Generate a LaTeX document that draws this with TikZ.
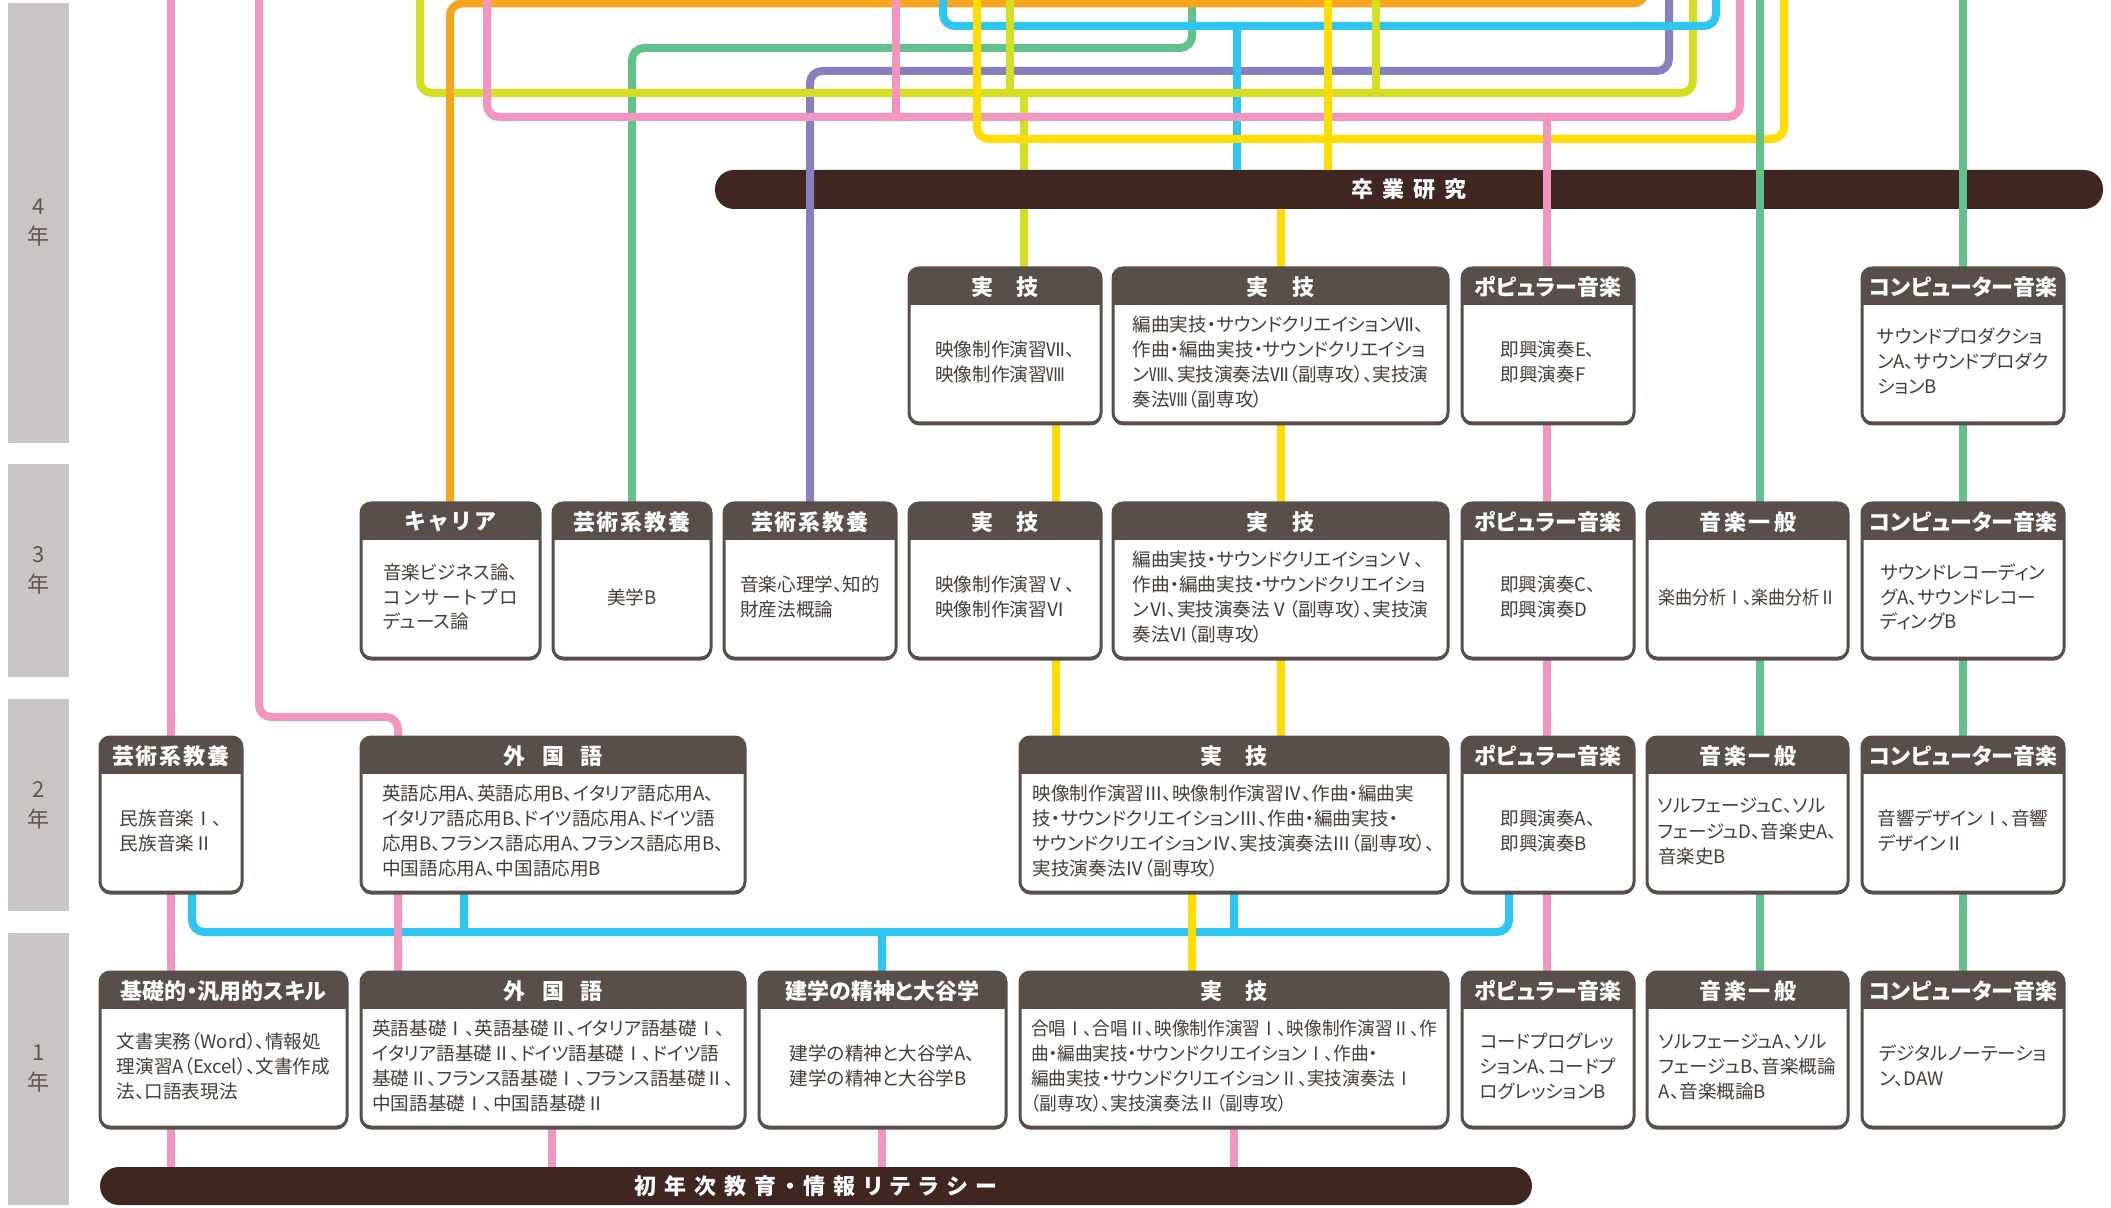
\documentclass[tikz,border=0pt]{standalone}
\usepackage{fontspec}
\usepackage{graphicx}
\setmainfont{Noto Sans CJK JP}[RawFeature={+palt}]
\newfontfamily\hfont{Noto Sans CJK JP}[RawFeature={+palt}]
\usetikzlibrary{calc}
\definecolor{cOrg}{HTML}{F7A51F}
\definecolor{cPink}{HTML}{F296BF}
\definecolor{cLime}{HTML}{D5DF21}
\definecolor{cGreen}{HTML}{63C18B}
\definecolor{cPurple}{HTML}{8780BE}
\definecolor{cCyan}{HTML}{2DC6F1}
\definecolor{cYel}{HTML}{FFDD00}
\definecolor{cHdr}{HTML}{584E4A}
\definecolor{cBar}{HTML}{3F2720}
\definecolor{cYear}{HTML}{C9C5C4}
\definecolor{cTxt}{HTML}{463D39}
\definecolor{cYearTxt}{HTML}{5E5551}
\newsavebox\fitsave
\newsavebox\tmpbox
\newcommand\fitto[2]{\sbox\fitsave{#2}\ifdim\wd\fitsave>#1\relax\resizebox{#1}{\height}{\usebox\fitsave}\else\usebox\fitsave\fi}
\def\lspk{0pt}
\newcommand\lsp[2]{\def\lspk{#1}\lspA#2\relax}
\def\lspA#1{#1\lspB}
\def\lspB#1{\ifx\relax#1\else\kern\lspk\relax#1\expandafter\lspB\fi}
\pgfdeclarelayer{l0}
\pgfdeclarelayer{l1}
\pgfdeclarelayer{l2}
\pgfsetlayers{l0,l1,l2,main}
\tikzset{
  ln/.style={line width=4pt, rounded corners=6pt},
  lo/.style={ln, draw=cOrg}, lp/.style={ln, draw=cPink}, ll/.style={ln, draw=cLime},
  lg/.style={ln, draw=cGreen}, lu/.style={ln, draw=cPurple}, lc/.style={ln, draw=cCyan},
  ly/.style={ln, draw=cYel},
  boxframe/.style={draw=cHdr, line width=1.5pt, rounded corners=5pt, inner sep=0pt, outer sep=0pt},
  hdrtext/.style={text=white, inner sep=0pt, font=\hfont\bfseries\fontsize{11}{13}\selectfont},
  bodytext/.style={text=cTxt, inner sep=0pt, font=\fontsize{9.3}{12.5}\selectfont},
  yearbar/.style={fill=cYear, inner sep=0pt, text=cYearTxt, align=center, font=\fontsize{11}{15}\selectfont},
  barnode/.style={fill=cBar, rounded corners=9.5pt, inner sep=0pt, text=white, font=\hfont\bfseries\fontsize{11}{13}\selectfont},
}
\newcommand\cbox[6]{%
 \pgfmathsetlengthmacro\bxw{(#3-#2-22)*0.5pt}%
 \pgfmathsetlengthmacro\hdw{(#3-#2-10)*0.5pt}%
 \pgfmathsetlengthmacro\bxwd{(#3-#2)*0.5pt}%
 \fill[cHdr, rounded corners=5pt] (#2,#4+4) rectangle (#3,#4+157.5);
 \fill[white, rounded corners=5pt] (#2,#4) rectangle (#3,#4+155);
 \begin{scope}
  \clip[rounded corners=5pt] (#2,#4) rectangle (#3,#4+155);
  \fill[cHdr] (#2,#4) rectangle (#3,#4+37);
 \end{scope}
 \node[boxframe, minimum width=\bxwd, minimum height=77.5pt] (#1) at ({(#2+#3)/2},#4+77.5) {};
 \node[hdrtext] (#1h) at ({(#2+#3)/2},#4+19) {\fitto{\hdw}{#5}};
 \node[bodytext] (#1b) at ({(#2+#3)/2},#4+96) {\fitto{\bxw}{\begin{tabular}{@{}l@{}}#6\end{tabular}}};
}
\begin{document}
\begin{tikzpicture}[x=0.5pt,y=-0.5pt]
\useasboundingbox (0,0) rectangle (2111,1208);
% year bars
\node[yearbar, minimum width=30.5pt, minimum height=220pt] (y4) at (38.5,223) {4\\年};
\node[yearbar, minimum width=30.5pt, minimum height=106.5pt] (y3) at (38.5,570.5) {3\\年};
\node[yearbar, minimum width=30.5pt, minimum height=106pt] (y2) at (38.5,805) {2\\年};
\node[yearbar, minimum width=30.5pt, minimum height=136pt] (y1) at (38.5,1069) {1\\年};
% row 4
\cbox{r4a}{909}{1101}{268}{実\hspace{1.05em}技}{映像制作演習Ⅶ、\\映像制作演習Ⅷ}
\cbox{r4b}{1113}{1448}{268}{実\hspace{1.05em}技}{編曲実技・サウンドクリエイションⅦ、\\作曲・編曲実技・サウンドクリエイショ\\ンⅧ、実技演奏法Ⅶ（副専攻）、実技演\\奏法Ⅷ（副専攻）}
\cbox{r4c}{1462}{1634}{268}{ポピュラー音楽}{即興演奏E、\\即興演奏F}
\cbox{r4d}{1862}{2064}{268}{コンピューター音楽}{サウンドプロダクショ\\ンA、サウンドプロダク\\ションB}
% row 3
\cbox{r3a}{361}{540}{503}{\lsp{2pt}{キャリア}}{\global\setbox\tmpbox\hbox{音楽ビジネス論、}\copy\tmpbox\\\makebox[\wd\tmpbox][s]{コ\hfill ン\hfill サ\hfill ー\hfill ト\hfill プ\hfill ロ}\\デュース論}
\cbox{r3b}{553}{711}{503}{\lsp{1pt}{芸術系教養}}{美学B}
\cbox{r3c}{724}{896}{503}{\lsp{1pt}{芸術系教養}}{音楽心理学、知的\\財産法概論}
\cbox{r3d}{909}{1101}{503}{実\hspace{1.05em}技}{映像制作演習Ⅴ、\\映像制作演習Ⅵ}
\cbox{r3e}{1113}{1448}{503}{実\hspace{1.05em}技}{編曲実技・サウンドクリエイションⅤ、\\作曲・編曲実技・サウンドクリエイショ\\ンⅥ、実技演奏法Ⅴ（副専攻）、実技演\\奏法Ⅵ（副専攻）}
\cbox{r3f}{1462}{1634}{503}{ポピュラー音楽}{即興演奏C、\\即興演奏D}
\cbox{r3g}{1647}{1848}{503}{\lsp{1.5pt}{音楽一般}}{楽曲分析Ⅰ、楽曲分析Ⅱ}
\cbox{r3h}{1862}{2064}{503}{コンピューター音楽}{サウンドレコーディン\\グA、サウンドレコー\\ディングB}
% row 2
\cbox{r2a}{100}{242}{737}{\lsp{1pt}{芸術系教養}}{民族音楽Ⅰ、\\民族音楽Ⅱ}
\cbox{r2b}{361}{745}{737}{外\hspace{0.75em}国\hspace{0.75em}語}{英語応用A、英語応用B、イタリア語応用A、\\イタリア語応用B、ドイツ語応用A、ドイツ語\\応用B、フランス語応用A、フランス語応用B、\\中国語応用A、中国語応用B}
\cbox{r2c}{1020}{1448}{737}{実\hspace{1.05em}技}{映像制作演習Ⅲ、映像制作演習Ⅳ、作曲・編曲実\\技・サウンドクリエイションⅢ、作曲・編曲実技・\\サウンドクリエイションⅣ、実技演奏法Ⅲ（副専攻）、\\実技演奏法Ⅳ（副専攻）}
\cbox{r2d}{1462}{1634}{737}{ポピュラー音楽}{即興演奏A、\\即興演奏B}
\cbox{r2e}{1647}{1848}{737}{\lsp{1.5pt}{音楽一般}}{ソルフェージュC、ソル\\フェージュD、音楽史A、\\音楽史B}
\cbox{r2f}{1862}{2064}{737}{コンピューター音楽}{音響デザインⅠ、音響\\デザインⅡ}
% row 1
\cbox{r1a}{100}{347}{972}{基礎的・汎用的スキル}{文書実務（Word）、情報処\\理演習A（Excel）、文書作成\\法、口語表現法}
\cbox{r1b}{361}{745}{972}{外\hspace{0.75em}国\hspace{0.75em}語}{英語基礎Ⅰ、英語基礎Ⅱ、イタリア語基礎Ⅰ、\\イタリア語基礎Ⅱ、ドイツ語基礎Ⅰ、ドイツ語\\基礎Ⅱ、フランス語基礎Ⅰ、フランス語基礎Ⅱ、\\中国語基礎Ⅰ、中国語基礎Ⅱ}
\cbox{r1c}{759}{1006}{972}{建学の精神と大谷学}{建学の精神と大谷学A、\\建学の精神と大谷学B}
\cbox{r1d}{1020}{1448}{972}{実\hspace{1.05em}技}{合唱Ⅰ、合唱Ⅱ、映像制作演習Ⅰ、映像制作演習Ⅱ、作\\曲・編曲実技・サウンドクリエイションⅠ、作曲・\\編曲実技・サウンドクリエイションⅡ、実技演奏法Ⅰ\\（副専攻）、実技演奏法Ⅱ（副専攻）}
\cbox{r1e}{1462}{1634}{972}{ポピュラー音楽}{コードプログレッ\\ションA、コードプ\\ログレッションB}
\cbox{r1f}{1647}{1848}{972}{\lsp{1.5pt}{音楽一般}}{ソルフェージュA、ソル\\フェージュB、音楽概論\\A、音楽概論B}
\cbox{r1g}{1862}{2064}{972}{コンピューター音楽}{デジタルノーテーショ\\ン、DAW}
% bars
\begin{pgfonlayer}{l1}
\node[barnode, minimum width=694pt, minimum height=19.5pt] (grad) at (1409,189.5) {\lsp{4.5pt}{卒業研究}};
\end{pgfonlayer}
\node[barnode, minimum width=716pt, minimum height=19pt] (fyb) at (816,1186) {\lsp{4pt}{初年次教育・情報リテラシー}};
% coordinates
\coordinate (gA) at (1192,-30); \coordinate (gB) at (632,48);
\coordinate (uA) at (1669,-30); \coordinate (uB) at (810,71);
\coordinate (lA) at (1693,-30); \coordinate (lB) at (420,93); \coordinate (lT1) at (420,-30);
\coordinate (lT2) at (1010,-30); \coordinate (lT3) at (1376,-30); \coordinate (lD) at (1024,93);
\coordinate (oA) at (1645,-30); \coordinate (oB) at (450,3.5);
\coordinate (pA) at (1740,-30); \coordinate (pB) at (487,117); \coordinate (pT1) at (487,-30);
\coordinate (pT2) at (896,-30); \coordinate (pD) at (1547,117);
\coordinate (cA) at (1716,-30); \coordinate (cB) at (943,26); \coordinate (cT) at (943,-30); \coordinate (cD) at (1237,26);
\coordinate (yA) at (1784,-30); \coordinate (yB) at (977,139); \coordinate (yT) at (977,-30); \coordinate (yT2) at (1328,-30);
\coordinate (gT2) at (1760,-30); \coordinate (gT3) at (1963,-30);
\coordinate (pT3) at (171,-30); \coordinate (pT4) at (259,-30); \coordinate (pC) at (398,717);
\coordinate (cLa) at (192,932); \coordinate (cLb) at (1509,932);
\coordinate (x464) at (464,0); \coordinate (x882) at (882,0); \coordinate (x1234) at (1234,0);
\coordinate (x552) at (552,0); \coordinate (x1281) at (1281,0); \coordinate (x1056) at (1056,0);
\coordinate (x1192) at (1192,0);
% connectors under the graduation bar
\begin{pgfonlayer}{l0}
\draw[ll] (lD) -- (lD |- r4a.north);
\end{pgfonlayer}
% connectors
\begin{pgfonlayer}{l2}
\draw[lg] (gA) |- (gB) -- (gB |- r3b.north);
\draw[lu] (uA) |- (uB) -- (uB |- r3c.north);
\draw[lc] (cD) -- (cD |- grad.north);
\draw[ll] (lA) |- (lB) -- (lT1);
\draw[lo] (oA) |- (oB) -- (oB |- r3a.north);
\draw[lp] (pA) |- (pB) -- (pT1);
\draw[lc] (cA) |- (cB) -- (cT);
\draw[ly] (yA) |- (yB) -- (yT);
\draw[ly] (yT2) -- (yT2 |- grad.north);
\draw[ll] (lT2) -- (lT2 |- lB);
\draw[ll] (lT3) -- (lT3 |- lB);
\draw[lp] (pT2) -- (pT2 |- pB);
\draw[lg] (gT2) -- (gT2 |- r1f.north);
\draw[lg] (gT3) -- (gT3 |- r1g.north);
\draw[lp] (pD) -- (pD |- r1e.north);
\draw[lc] (cLa |- r2a.south) -- (cLa) -- (cLb) -- (cLb |- r2d.south);
\draw[lc] (x464 |- r2b.south) -- (x464 |- cLa);
\draw[lc] (x1234 |- r2c.south) -- (x1234 |- cLa);
\draw[lc] (x882 |- cLa) -- (x882 |- r1c.north);
\draw[lp] (pT3) -- (pT3 |- fyb.north);
\draw[lp] (pT4) |- (pC) -- (pC |- r1b.north);
\draw[lp] (x552 |- r1b.south) -- (x552 |- fyb.north);
\draw[lp] (x882 |- r1c.south) -- (x882 |- fyb.north);
\draw[lp] (x1234 |- r1d.south) -- (x1234 |- fyb.north);
\draw[ly] (x1281 |- grad.south) -- (x1281 |- r2c.north);
\draw[ly] (x1056 |- r4a.south) -- (x1056 |- r2c.north);
\draw[ly] (x1192 |- r2c.south) -- (x1192 |- r1d.north);
\end{pgfonlayer}
\end{tikzpicture}
\end{document}
